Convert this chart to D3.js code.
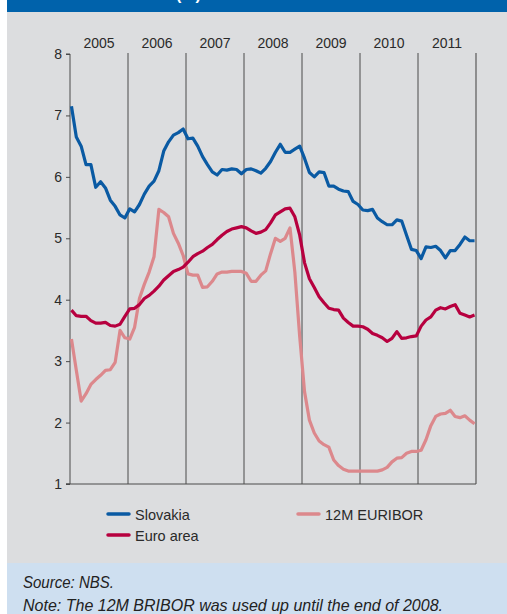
<!DOCTYPE html>
<html>
<head>
<meta charset="utf-8">
<script src="https://cdn.jsdelivr.net/npm/d3@7"></script>
<style>
  html, body { margin: 0; padding: 0; background: #ffffff; }
  svg { display: block; }
</style>
</head>
<body>
<div id="chart"></div>
<script>
// ---- Data (monthly, Jan 2005 – Dec 2011) ----
const years = ["2005", "2006", "2007", "2008", "2009", "2010", "2011"];
const yTicks = [1, 2, 3, 4, 5, 6, 7, 8];

const slovakia = [
  7.15, 6.65, 6.50, 6.20, 6.20, 5.83, 5.92, 5.82, 5.62, 5.52, 5.38, 5.33,
  5.48, 5.43, 5.55, 5.72, 5.85, 5.93, 6.10, 6.42, 6.57, 6.68, 6.72, 6.78,
  6.62, 6.63, 6.50, 6.33, 6.20, 6.08, 6.03, 6.12, 6.11, 6.13, 6.12, 6.05,
  6.12, 6.13, 6.10, 6.06, 6.14, 6.25, 6.40, 6.53, 6.40, 6.40, 6.45, 6.50,
  6.30, 6.07, 6.00, 6.08, 6.07, 5.85, 5.85, 5.80, 5.77, 5.76, 5.60, 5.55,
  5.46, 5.45, 5.47, 5.33, 5.27, 5.22, 5.22, 5.30, 5.28, 5.05, 4.82, 4.80,
  4.67, 4.86, 4.85, 4.87, 4.80, 4.68, 4.80, 4.80, 4.90, 5.02, 4.96, 4.96
];

const euroArea = [
  3.83, 3.74, 3.73, 3.73, 3.66, 3.62, 3.62, 3.63, 3.58, 3.57, 3.60, 3.73,
  3.85, 3.86, 3.92, 4.02, 4.07, 4.14, 4.22, 4.32, 4.39, 4.46, 4.49, 4.53,
  4.61, 4.70, 4.75, 4.79, 4.85, 4.90, 4.98, 5.05, 5.11, 5.15, 5.17, 5.19,
  5.17, 5.12, 5.08, 5.10, 5.14, 5.25, 5.38, 5.43, 5.48, 5.49, 5.35, 5.05,
  4.60, 4.34, 4.20, 4.05, 3.95, 3.86, 3.84, 3.83, 3.70, 3.63, 3.57, 3.57,
  3.56, 3.52, 3.45, 3.42, 3.38, 3.32, 3.37, 3.48, 3.37, 3.38, 3.40, 3.41,
  3.57, 3.67, 3.72, 3.83, 3.87, 3.85, 3.89, 3.92, 3.78, 3.75, 3.72, 3.75
];

const euribor = [
  3.36, 2.85, 2.35, 2.47, 2.62, 2.70, 2.77, 2.85, 2.86, 2.98, 3.50, 3.38,
  3.36, 3.55, 4.02, 4.25, 4.45, 4.70, 5.47, 5.42, 5.35, 5.08, 4.92, 4.72,
  4.42, 4.40, 4.40, 4.20, 4.21, 4.30, 4.42, 4.45, 4.45, 4.46, 4.46, 4.46,
  4.43, 4.30, 4.30, 4.40, 4.47, 4.75, 5.00, 4.95, 5.00, 5.17, 4.45, 3.40,
  2.50, 2.04, 1.83, 1.70, 1.64, 1.60, 1.39, 1.30, 1.24, 1.21, 1.21, 1.21,
  1.21, 1.21, 1.21, 1.21, 1.23, 1.27, 1.36, 1.42, 1.43, 1.50, 1.53, 1.53,
  1.55, 1.72, 1.95, 2.10, 2.14, 2.15, 2.20, 2.10, 2.08, 2.11, 2.04, 1.98
];

const seriesNames = ["Slovakia", "Euro area", "12M EURIBOR"];
const seriesColors = ["#0a5aa3", "#b7003f", "#dc888c"];
const sourceText = "Source: NBS.";
const noteText = "Note: The 12M BRIBOR was used up until the end of 2008.";

(function () {
  const W = 507, H = 614;
  const svg = d3.select("#chart").append("svg").attr("width", W).attr("height", H);

  // backgrounds
  svg.append("rect").attr("x", 7).attr("y", 0).attr("width", W - 7).attr("height", 12).attr("fill", "#0062ab");
  svg.append("text").attr("x", 176).attr("y", 0).attr("fill", "#ffffff")
    .attr("font-family", "Liberation Sans, Arial, sans-serif").attr("font-size", 16).attr("font-weight", "bold")
    .text("(%)");
  svg.append("rect").attr("x", 7).attr("y", 12).attr("width", W - 7).attr("height", 551).attr("fill", "#dcdddf");
  svg.append("rect").attr("x", 7).attr("y", 563).attr("width", W - 7).attr("height", H - 563).attr("fill", "#cedff0");

  const pL = 70, pR = 476, pT = 54, pB = 484;
  const yearScale = d3.scaleLinear().domain([0, years.length]).range([pL, pR]);
  const x = d3.scaleLinear().domain([-0.3, 83.3]).range([pL, pR]);
  const y = d3.scaleLinear().domain([1, 8]).range([pB, pT]);

  const font = "Liberation Sans, Arial, Helvetica, sans-serif";

  // year dividers
  const g = svg.append("g");
  d3.range(1, years.length + 1).forEach(k => {
    g.append("line")
      .attr("x1", yearScale(k)).attr("x2", yearScale(k))
      .attr("y1", pT - 1).attr("y2", pB)
      .attr("stroke", k === years.length ? "#7a7a7a" : "#4a4a4a")
      .attr("stroke-width", k === years.length ? 1.6 : 1);
  });

  // year labels
  g.selectAll("text.year").data(years).join("text")
    .attr("class", "year")
    .attr("x", (d, i) => yearScale(i + 0.5))
    .attr("y", 48)
    .attr("text-anchor", "middle")
    .attr("font-family", font).attr("font-size", 14).attr("fill", "#2a2a2a")
    .text(d => d);

  // y axis
  const yAxis = d3.axisLeft(y).tickValues(yTicks).tickSize(4).tickPadding(4).tickFormat(d3.format("d"));
  const ya = svg.append("g").attr("transform", `translate(${pL},0)`).call(yAxis);
  ya.select(".domain").attr("stroke", "#4a4a4a").attr("d", `M-4,${pT}H0V${pB}H-4`);
  ya.selectAll(".tick line").attr("stroke", "#4a4a4a");
  ya.selectAll(".tick text").attr("font-family", font).attr("font-size", 14).attr("fill", "#2a2a2a");

  // bottom axis line
  svg.append("line").attr("x1", pL - 4).attr("x2", pR).attr("y1", pB).attr("y2", pB)
    .attr("stroke", "#4a4a4a").attr("stroke-width", 1);

  // lines
  const line = d3.line().x((d, i) => x(i)).y(d => y(d)).curve(d3.curveLinear);
  const drawOrder = [
    { data: euribor, color: seriesColors[2] },
    { data: euroArea, color: seriesColors[1] },
    { data: slovakia, color: seriesColors[0] }
  ];
  drawOrder.forEach(s => {
    svg.append("path").datum(s.data)
      .attr("d", line)
      .attr("fill", "none")
      .attr("stroke", s.color)
      .attr("stroke-width", 3.2)
      .attr("stroke-linejoin", "round")
      .attr("stroke-linecap", "butt");
  });

  // legend
  const legendItems = [
    { name: seriesNames[0], color: seriesColors[0], lx: 108, ly: 514 },
    { name: seriesNames[2], color: seriesColors[2], lx: 298, ly: 514 },
    { name: seriesNames[1], color: seriesColors[1], lx: 108, ly: 535 }
  ];
  legendItems.forEach(it => {
    svg.append("line").attr("x1", it.lx).attr("x2", it.lx + 21).attr("y1", it.ly).attr("y2", it.ly)
      .attr("stroke", it.color).attr("stroke-width", 3.5).attr("stroke-linecap", "round");
    svg.append("text").attr("x", it.lx + 27).attr("y", it.ly + 5.5)
      .attr("font-family", font).attr("font-size", 14.5).attr("fill", "#2a2a2a")
      .text(it.name);
  });

  // footer
  const footFont = "Liberation Sans Narrow, Arial Narrow, Liberation Sans, sans-serif";
  svg.append("text").attr("x", 23).attr("y", 588)
    .attr("font-family", footFont).attr("font-style", "italic").attr("font-size", 17).attr("fill", "#222")
    .attr("textLength", 91).attr("lengthAdjust", "spacingAndGlyphs")
    .text(sourceText);
  svg.append("text").attr("x", 23).attr("y", 611)
    .attr("font-family", footFont).attr("font-style", "italic").attr("font-size", 17).attr("fill", "#222")
    .attr("textLength", 420).attr("lengthAdjust", "spacingAndGlyphs")
    .text(noteText);
})();
</script>
</body>
</html>
